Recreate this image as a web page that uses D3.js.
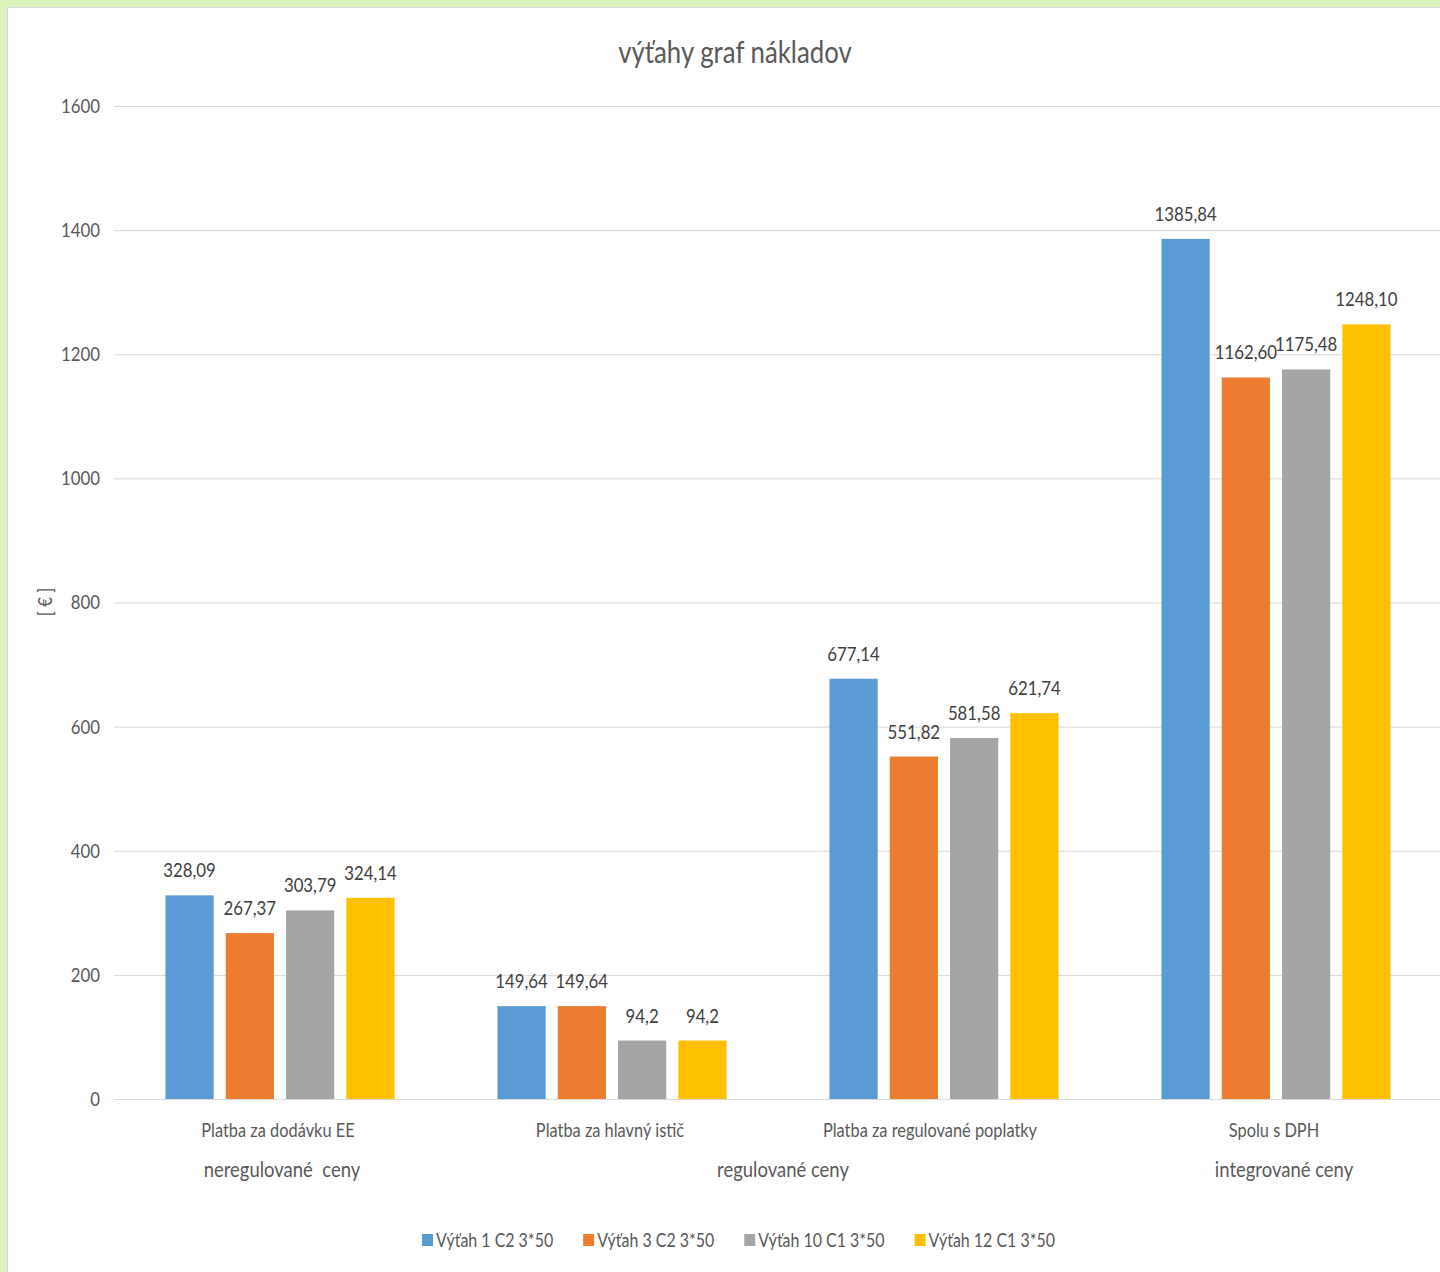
<!DOCTYPE html>
<html><head><meta charset="utf-8">
<script src="https://cdn.jsdelivr.net/npm/d3@7"></script>
<style>
html,body{margin:0;padding:0;background:#fff;}
svg text{font-family:Lato,"Open Sans",sans-serif;}
</style></head>
<body>
<svg id="chart" width="1440" height="1272"></svg>
<script>
const categories = ["Platba za dodávku EE","Platba za hlavný istič","Platba za regulované poplatky","Spolu s DPH"];
const seriesNames = ["Výťah 1 C2 3*50","Výťah 3 C2 3*50","Výťah 10 C1 3*50","Výťah 12 C1 3*50"];
const vytah1 = [328.09,149.64,677.14,1385.84];
const vytah3 = [267.37,149.64,551.82,1162.60];
const vytah10 = [303.79,94.2,581.58,1175.48];
const vytah12 = [324.14,94.2,621.74,1248.10];
const labels1 = ["328,09","149,64","677,14","1385,84"];
const labels3 = ["267,37","149,64","551,82","1162,60"];
const labels10 = ["303,79","94,2","581,58","1175,48"];
const labels12 = ["324,14","94,2","621,74","1248,10"];
const yTicks = [0,200,400,600,800,1000,1200,1400,1600];
const groupLabels = [{text:"neregulované  ceny", from:0, to:0},{text:"regulované ceny", from:1, to:2},{text:"integrované ceny", from:3, to:3}];
const colors = ["#5b9bd5","#ed7d31","#a5a5a5","#ffc000"];

const series = [vytah1,vytah3,vytah10,vytah12];
const seriesLabels = [labels1,labels3,labels10,labels12];
const SX = 0.84;

const svg = d3.select("#chart");
function addText(parent, x, y, str, size, fill, anchor, sx){
  sx = sx || SX;
  return parent.append("text")
    .attr("transform",`scale(${sx},1)`)
    .attr("x",x/sx).attr("y",y)
    .attr("text-anchor",anchor||"start")
    .attr("font-size",size).attr("fill",fill)
    .attr("xml:space","preserve").style("white-space","pre")
    .text(str);
}

// border
svg.append("rect").attr("x",0).attr("y",0).attr("width",1440).attr("height",1272).attr("fill","#dcf3bd");
svg.append("rect").attr("x",7.5).attr("y",7.5).attr("width",1440).attr("height",1272).attr("fill","#fff").attr("stroke","#d9d9d9").attr("stroke-width",1);

const x0 = d3.scaleBand().domain(categories).range([114,1442]).paddingInner(0).paddingOuter(0);
const y = d3.scaleLinear().domain([0,1600]).range([1099,106]);
const x1 = d3.scaleBand().domain(d3.range(4)).range([0,x0.bandwidth()*0.69]).paddingInner(0.2);
const groupOffset = x0.bandwidth()*0.155;

// grid
svg.append("g").selectAll("line").data(yTicks).join("line")
  .attr("x1",114).attr("x2",1440).attr("y1",d=>y(d)+0.5).attr("y2",d=>y(d)+0.5)
  .attr("stroke","#d9d9d9").attr("stroke-width",1);

// y tick labels
const yl = svg.append("g");
yTicks.forEach(t=>addText(yl,100,y(t)+7,String(t),20,"#595959","end"));

// y title
const yt = svg.append("g").attr("transform","translate(52,602) rotate(-90)");
addText(yt,0,0,"[ € ]",20,"#595959","middle");

// title
addText(svg,735,63,"výťahy graf nákladov",30,"#595959","middle",0.86);

// bars
const g = svg.append("g");
series.forEach((vals,si)=>{
  g.selectAll(".b"+si).data(vals).join("rect")
    .attr("x",(d,i)=>x0(categories[i])+groupOffset+x1(si))
    .attr("width",x1.bandwidth())
    .attr("y",d=>y(d)).attr("height",d=>y(0)-y(d))
    .attr("fill",colors[si]);
  vals.forEach((d,i)=>{
    addText(g, x0(categories[i])+groupOffset+x1(si)+x1.bandwidth()/2, y(d)-18, seriesLabels[si][i], 20, "#404040", "middle");
  });
});

// category labels
const cl = svg.append("g");
categories.forEach((c,i)=>{
  const shift = i===2 ? -14 : -2;
  addText(cl, x0(c)+x0.bandwidth()/2+shift, 1137, c, 19.5, "#595959", "middle");
});

// group labels
const gl = svg.append("g");
groupLabels.forEach((d,i)=>addText(gl,(x0(categories[d.from])+x0(categories[d.to])+x0.bandwidth())/2+2+3*i,1177,d.text,22,"#595959","middle"));

// legend
const lg = svg.append("g");
const items = seriesNames.map((n,i)=>{
  const t = addText(lg,0,1247,n,19,"#595959","start");
  return {t, w: t.node().getComputedTextLength()*SX};
});
const gap = 30, sw = 11, tg = 3;
const total = d3.sum(items,d=>sw+tg+d.w) + gap*(items.length-1);
let cx = 738.5 - total/2;
items.forEach((it,i)=>{
  lg.append("rect").attr("x",cx).attr("y",1234).attr("width",sw).attr("height",12).attr("fill",colors[i]);
  it.t.attr("x",(cx+sw+tg)/SX);
  cx += sw+tg+it.w+gap;
});
</script>
</body></html>
